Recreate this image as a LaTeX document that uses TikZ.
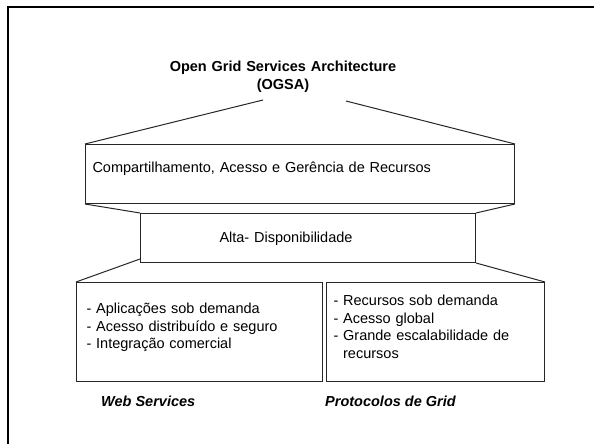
\documentclass[tikz,border=0pt]{standalone}
\usepackage{fontspec}
\setmainfont{Liberation Sans}
\usepackage{tikz}
\usetikzlibrary{positioning}
\tikzset{
  bodytext/.style={font=\fontsize{14.5}{17.5}\selectfont},
  layerbox/.style={draw=black!85, line width=1pt, inner sep=0pt,
    align=left, bodytext},
  edgeline/.style={draw=black!85, line width=1pt},
  frameline/.style={draw=black, line width=2pt},
  titletext/.style={font=\fontsize{14.5}{18}\selectfont\bfseries,
    text width=260pt, align=center, inner sep=0pt},
  sidetext/.style={font=\fontsize{14.5}{17.5}\selectfont\bfseries\itshape,
    inner sep=0pt}
}

\begin{document}
\begin{tikzpicture}[x=1pt, y=-1pt]

  \useasboundingbox (0,0) rectangle (594,444);
  \clip (0,0) rectangle (594,444);

  % Slide frame
  \draw[frameline] (7.5,7.5) rectangle (620,470);

  % Title
  \node[titletext, anchor=base] (ogsa) at (283,71)
    {Open Grid Services Architecture\\(OGSA)};
  \coordinate (ogsaL) at (263,100);
  \coordinate (ogsaR) at (346,101);

  % Layers
  \node[layerbox, anchor=north west, inner xsep=7pt, text width=415pt,
    text height=28pt, text depth=31pt] (res) at (85,144)
    {Compartilhamento, Acesso e Gerência de Recursos};
  \node[layerbox, anchor=north west, inner xsep=79pt, text width=177pt,
    text height=29pt, text depth=20pt] (avail) at (140,213)
    {Alta- Disponibilidade};
  \node[layerbox, anchor=north west, inner xsep=10pt, text width=226pt,
    text height=31pt, text depth=68pt] (ws) at (76,282)
    {- Aplicações sob demanda\\- Acesso distribuído e seguro\\- Integração comercial};
  \node[layerbox, anchor=north west, inner xsep=7pt, text width=204pt,
    text height=23pt, text depth=76pt] (grid) at (326,282)
    {- Recursos sob demanda\\- Acesso global\\- Grande escalabilidade de\\\phantom{- }recursos};

  % Slanted joins
  \draw[edgeline] (ogsaL) -- (res.north west);
  \draw[edgeline] (ogsaR) -- (res.north east);
  \draw[edgeline] (res.south west) -- (avail.north west);
  \draw[edgeline] (res.south east) -- (avail.north east);
  \draw[edgeline] ([yshift=4pt]avail.south west) -- (ws.north west);
  \draw[edgeline] (avail.south east) -- (grid.north east);

  % Captions
  \node[sidetext, anchor=base west] (wslabel) at (101,406) {Web Services};
  \node[sidetext, anchor=base west] (gridlabel) at (325,406) {Protocolos de Grid};

\end{tikzpicture}
\end{document}
